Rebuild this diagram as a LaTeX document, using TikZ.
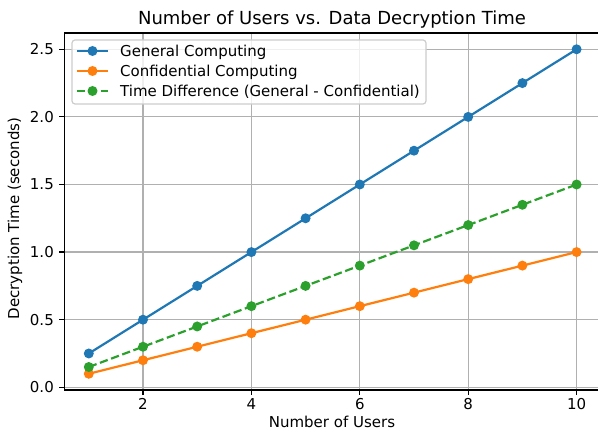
\documentclass[tikz,border=0pt]{standalone}
\usepackage{fontspec}
\setmainfont{DejaVu Sans}
\usetikzlibrary{positioning}
\definecolor{plotblue}{HTML}{1F77B4}
\definecolor{plotorange}{HTML}{FF7F0E}
\definecolor{plotgreen}{HTML}{2CA02C}
\definecolor{gridgray}{HTML}{B0B0B0}
\definecolor{legendedge}{HTML}{CCCCCC}
\tikzset{
  gridline/.style={draw=gridgray,line width=1.2pt},
  spine/.style={draw=black,line width=1.2pt,line cap=rect},
  tickmark/.style={draw=black,line width=1.2pt},
  ticklabel/.style={font=\fontsize{15}{17}\selectfont,inner sep=0pt},
  axislabel/.style={font=\fontsize{15}{17}\selectfont,inner sep=0pt},
  titlelabel/.style={font=\fontsize{18}{21}\selectfont,inner sep=0pt},
  serie/.style={line width=2.2pt,line join=round},
  dashserie/.style={serie,dash pattern=on 8.3pt off 3.6pt},
  dot/.style={circle,inner sep=0pt,minimum size=10pt},
  legendbox/.style={draw=legendedge,fill=white,fill opacity=0.8,rounded corners=3pt,line width=1.2pt},
  legendtext/.style={font=\fontsize{15}{17}\selectfont,anchor=base west,inner sep=0pt}
}

\begin{document}
\begin{tikzpicture}[x=1pt,y=1pt]
  \useasboundingbox (0,0) rectangle (598,430);
  \clip (0,0) rectangle (598,430);

  \node[titlelabel,anchor=base] (title) at (332,405) {Number of Users vs. Data Decryption Time};
  \node[axislabel,anchor=base] (xlabel) at (332,2.5) {Number of Users};
  \node[axislabel,anchor=base,rotate=90] (ylabel) at (19,211.5) {Decryption Time (seconds)};

  \begin{scope}[shift={(34.6pt,42.7pt)},x=54.2pt,y=135.2pt]
    % grid
    \foreach \n in {2,4,...,10}
      \draw[gridline] (\n,-0.02) -- (\n,2.62);
    \foreach \v in {0.0,0.5,1.0,1.5,2.0,2.5}
      \draw[gridline] (0.55,\v) -- (10.45,\v);

    % spines and ticks
    \draw[spine] (0.55,2.62) -- (0.55,-0.02) -- (10.45,-0.02);
    \draw[spine] (0.55,2.62) -- (10.45,2.62);
    \foreach \n in {2,4,...,10} {
      \draw[tickmark] (\n,-0.02) -- ++(0,-5.2pt);
      \node[ticklabel,anchor=base,yshift=-20pt] (xt\n) at (\n,-0.02) {\n};
    }
    \foreach \v [count=\i] in {0.0,0.5,1.0,1.5,2.0,2.5} {
      \draw[tickmark] (0.55,\v) -- ++(-5.2pt,0);
      \node[ticklabel,anchor=east,xshift=-10.4pt] (yt\i) at (0.55,\v) {\v};
    }

    % data
    \draw[serie,plotblue] (1,0.25) \foreach \n in {2,...,10} { -- (\n,0.25*\n) };
    \draw[serie,plotorange] (1,0.1) \foreach \n in {2,...,10} { -- (\n,0.1*\n) };
    \draw[dashserie,plotgreen] (1,0.15) \foreach \n in {2,...,10} { -- (\n,0.15*\n) };
    \foreach \n in {1,...,10} {
      \node[dot,fill=plotblue] (g\n) at (\n,0.25*\n) {};
      \node[dot,fill=plotorange] (c\n) at (\n,0.1*\n) {};
      \node[dot,fill=plotgreen] (d\n) at (\n,0.15*\n) {};
    }
  \end{scope}

  % legend
  \draw[legendbox] (72,326) rectangle (426,390);
  \foreach \col/\txt/\sty [count=\i] in {plotblue/General Computing/serie,
      plotorange/Confidential Computing/serie,
      plotgreen/Time Difference (General - Confidential)/dashserie} {
    \coordinate (row\i) at (77,399-20*\i);
    \draw[\sty,\col] (row\i) -- ++(31,0);
    \node[dot,fill=\col] (lm\i) at ([xshift=15.5pt]row\i) {};
    \node[legendtext] (lt\i) at ([xshift=43pt,yshift=-5.5pt]row\i) {\txt};
  }
\end{tikzpicture}
\end{document}
